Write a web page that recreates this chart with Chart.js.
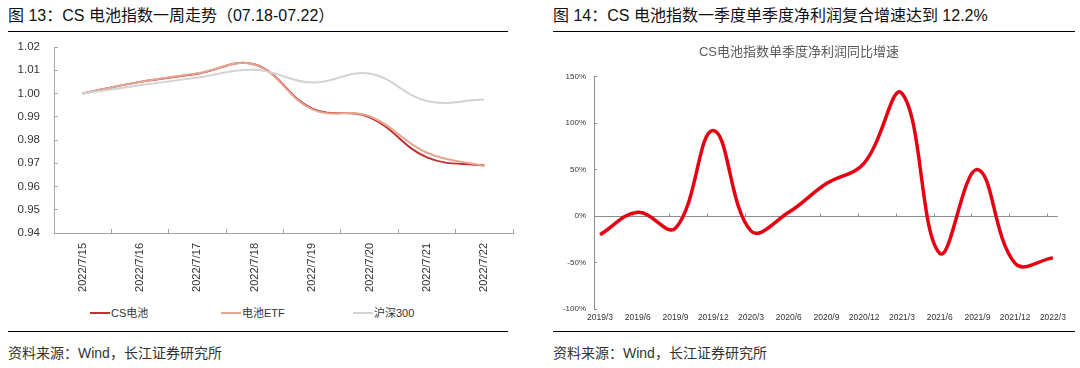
<!DOCTYPE html>
<html>
<head>
<meta charset="utf-8">
<script src="https://cdn.jsdelivr.net/npm/chart.js@4/dist/chart.umd.min.js"></script>
<style>
  html, body { margin: 0; padding: 0; background: #fff; }
  body { width: 1080px; height: 368px; position: relative; overflow: hidden;
         font-family: "Liberation Sans", "Noto Sans CJK SC", sans-serif; color: #222; }
  .abs { position: absolute; white-space: nowrap; }
  .title { font-size: 16px; line-height: 20px; color: #111; }
  .rule { height: 1px; background: #000; }
  .source { font-size: 14px; line-height: 18px; color: #333; }
  .legend { font-size: 11px; line-height: 14px; color: #333; }
  .legend i { display: inline-block; width: 20px; height: 2px; vertical-align: middle; margin-right: 1px; margin-top: -2px; }
</style>
</head>
<body>
  <div class="abs title" style="left:8px; top:6px;">图 13：CS 电池指数一周走势（07.18-07.22）</div>
  <div class="abs rule" style="left:8px; top:31px; width:500px;"></div>
  <div class="abs" style="left:0; top:34px; width:530px; height:265px;"><canvas id="weekChart"></canvas></div>
  <div class="abs legend" id="weekLegend" style="left:0; top:306px; width:530px;"></div>
  <div class="abs rule" style="left:8px; top:331px; width:500px;"></div>
  <div class="abs source" style="left:8px; top:344px;">资料来源：Wind，长江证券研究所</div>

  <div class="abs title" style="left:553px; top:6px;">图 14：CS 电池指数一季度单季度净利润复合增速达到 12.2%</div>
  <div class="abs rule" style="left:553px; top:31px; width:522px;"></div>
  <div class="abs" style="left:540px; top:36px; width:530px; height:292px;"><canvas id="growthChart"></canvas></div>
  <div class="abs rule" style="left:553px; top:331px; width:522px;"></div>
  <div class="abs source" style="left:553px; top:344px;">资料来源：Wind，长江证券研究所</div>

<script>
// left: one week of index values
const weekDates = ["2022/7/15", "2022/7/16", "2022/7/17", "2022/7/18", "2022/7/19", "2022/7/20", "2022/7/21", "2022/7/22"];
const csBattery = [1.000, 1.0050, 1.0085, 1.0125, 0.9935, 0.9898, 0.9725, 0.9690];
const batteryEtf = [1.000, 1.0050, 1.0087, 1.0124, 0.9932, 0.9902, 0.9745, 0.9688];
const hs300 = [1.000, 1.0035, 1.0069, 1.0102, 1.0047, 1.0086, 0.9968, 0.9974];
const weekTicks = [0.94, 0.95, 0.96, 0.97, 0.98, 0.99, 1.00, 1.01, 1.02];

// right: quarterly net profit growth (%)
const quarters = ["2019/3", "2019/6", "2019/9", "2019/12", "2020/3", "2020/6", "2020/9", "2020/12", "2021/3", "2021/6", "2021/9", "2021/12", "2022/3"];
const profitGrowth = [-20, 4, -13, 92, -16, 4, 35, 57, 132, -40, 50, -51, -45];
const growthTicks = [-100, -50, 0, 50, 100, 150];

const seriesNames = ["CS电池", "电池ETF", "沪深300"];
const seriesColors = ["#c0302f", "#e3a692", "#d3d3d3"];

Chart.defaults.font.family = '"Liberation Sans", "Noto Sans CJK SC", sans-serif';
Chart.defaults.color = "#333";

function createWeekChart() {
  const canvas = document.querySelector("#weekChart");
  let values = [csBattery, batteryEtf, hs300];

  new Chart(canvas, {
    type: "line",
    data: {
      labels: weekDates,
      datasets: values.map((data, i) => ({
        label: seriesNames[i],
        data: data,
        borderColor: seriesColors[i],
        borderWidth: 2,
        pointRadius: 0,
        tension: 0.4,
        order: 2 - i,
      })),
    },
    options: {
      responsive: true,
      maintainAspectRatio: false,
      animation: false,
      layout: { padding: { top: 13, right: 17, left: 0, bottom: 0 } },
      plugins: { legend: { display: false }, tooltip: { enabled: false } },
      scales: {
        x: {
          offset: true,
          grid: { offset: true, drawOnChartArea: false, tickLength: -4, color: "#a6a6a6" },
          border: { color: "#a6a6a6" },
          ticks: { minRotation: 90, maxRotation: 90, autoSkip: false, padding: 14, font: { size: 11 } },
          afterFit: (scale) => { scale.height = 66; },
        },
        y: {
          min: 0.94,
          max: 1.02,
          afterBuildTicks: (scale) => { scale.ticks = weekTicks.map((v) => ({ value: v })); },
          grid: { drawOnChartArea: false, tickLength: -4, color: "#a6a6a6" },
          border: { color: "#a6a6a6" },
          ticks: { padding: 18, font: { size: 11.5 }, callback: (v) => Number(v).toFixed(2) },
          afterFit: (scale) => {
            scale.width = 54;
            scale.paddingTop = 0;
            scale.paddingBottom = 0;
          },
        },
      },
    },
  });

  // legend as plain text under the chart
  let legendLeft = [90, 221, 353];
  let box = document.querySelector("#weekLegend");
  seriesNames.forEach((name, i) => {
    let item = document.createElement("div");
    item.className = "abs";
    item.style.left = legendLeft[i] + "px";
    item.innerHTML = '<i style="background:' + seriesColors[i] + '"></i>' + name;
    box.appendChild(item);
  });
}

// small marks on the zero line
const zeroTicks = {
  id: "zeroTicks",
  beforeDatasetsDraw(chart) {
    const x = chart.scales.x;
    const y = chart.scales.y;
    const ctx = chart.ctx;
    let y0 = Math.round(y.getPixelForValue(0)) + 0.5;
    ctx.save();
    ctx.strokeStyle = "#8c8c8c";
    ctx.lineWidth = 1;
    ctx.beginPath();
    for (let k = 0; k < quarters.length; k++) {
      let px = Math.round(x.getPixelForValue(x.min + k)) + 0.5;
      ctx.moveTo(px, y0);
      ctx.lineTo(px, y0 - 3);
    }
    ctx.stroke();
    ctx.restore();
  },
};

function createGrowthChart() {
  const canvas = document.querySelector("#growthChart");

  new Chart(canvas, {
    type: "line",
    data: {
      datasets: [
        {
          label: "CS电池指数单季度净利润同比增速",
          data: profitGrowth.map((v, i) => ({ x: i, y: v })),
          borderColor: "#e60012",
          borderWidth: 3.5,
          pointRadius: 0,
          tension: 0.4,
        },
      ],
    },
    options: {
      responsive: true,
      maintainAspectRatio: false,
      animation: false,
      layout: { padding: { top: 0, right: 12, left: 0, bottom: 0 } },
      plugins: {
        legend: { display: false },
        tooltip: { enabled: false },
        title: {
          display: true,
          text: "CS电池指数单季度净利润同比增速",
          color: "#595959",
          font: { size: 13, weight: "normal" },
          padding: { top: 9, bottom: 16 },
        },
      },
      scales: {
        x: {
          type: "linear",
          min: -0.16,
          max: 12.13,
          afterBuildTicks: (scale) => { scale.ticks = quarters.map((q, i) => ({ value: i })); },
          grid: { display: false, drawTicks: false },
          border: { display: false },
          ticks: { maxRotation: 0, autoSkip: false, padding: 4, color: "#333", font: { size: 8.5 }, callback: (v) => quarters[v] },
          afterFit: (scale) => { scale.height = 19; },
        },
        y: {
          min: -100,
          max: 150,
          afterBuildTicks: (scale) => { scale.ticks = growthTicks.map((v) => ({ value: v })); },
          grid: {
            tickLength: -3,
            tickColor: "#8c8c8c",
            color: (c) => (c.tick && c.tick.value === 0 ? "#8c8c8c" : "rgba(0,0,0,0)"),
          },
          border: { color: "#8c8c8c" },
          ticks: { padding: 11, color: "#333", font: { size: 8 }, callback: (v) => v + "%" },
          afterFit: (scale) => { scale.width = 54; },
        },
      },
    },
    plugins: [zeroTicks],
  });
}

window.addEventListener("load", () => {
  createWeekChart();
  createGrowthChart();
});
</script>
</body>
</html>
